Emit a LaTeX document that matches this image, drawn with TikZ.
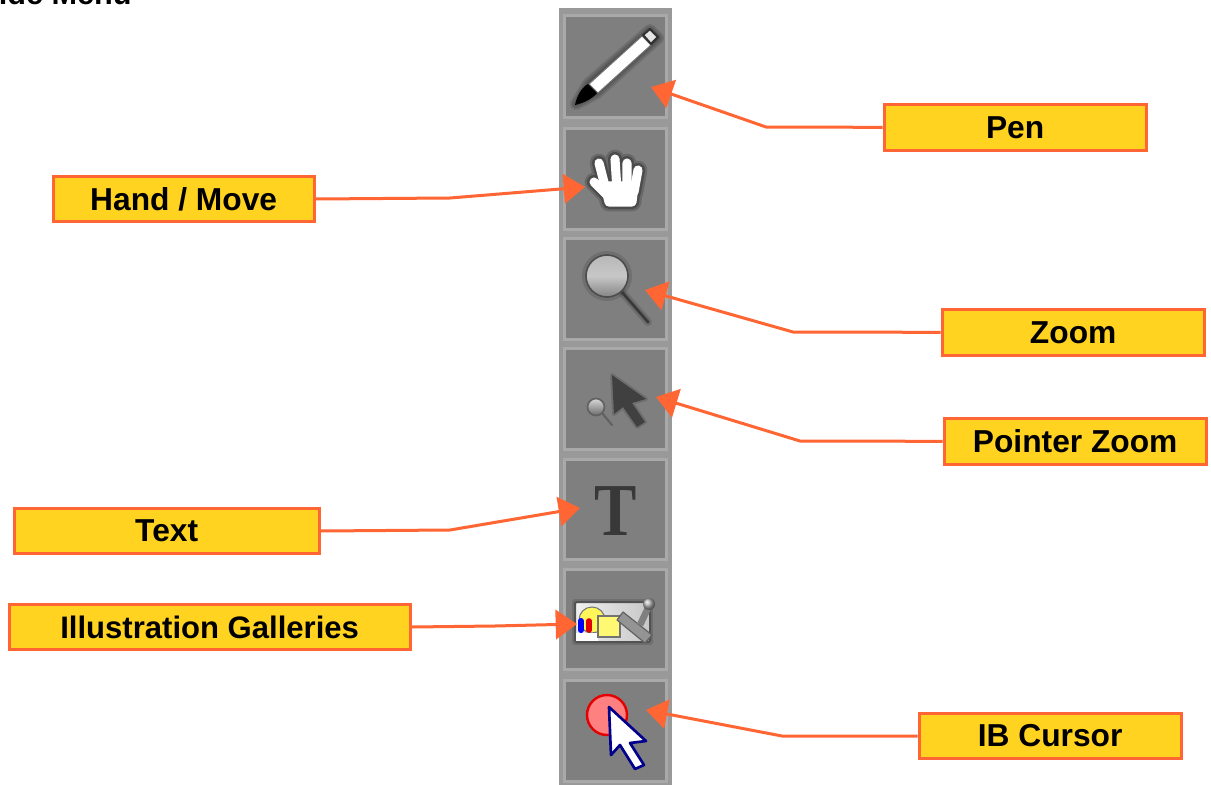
\documentclass[tikz,border=0pt]{standalone}
\usepackage{fontspec}
\setmainfont{Liberation Sans}
\newfontfamily\serifT{Liberation Serif}
\usetikzlibrary{arrows.meta,calc}
\definecolor{lineor}{HTML}{FF6633}
\definecolor{boxyel}{HTML}{FFD320}
\definecolor{panelg}{HTML}{999999}
\definecolor{btng}{HTML}{7F7F7F}
\definecolor{btnb}{HTML}{A9A9A9}
\tikzset{
  x=0.75pt,y=-0.75pt,
  labelbox/.style={draw=lineor,fill=boxyel,line width=2.25pt,rectangle,inner sep=0pt,
    font=\fontsize{23.8}{26}\selectfont\bfseries,text=black,anchor=north west},
  callout/.style={draw=lineor,line width=2.25pt,line join=round,
    -{Triangle[length=16pt,width=22pt,fill=lineor]}},
  button/.style={draw=btnb,fill=btng,line width=2.25pt,rectangle,inner sep=0pt,anchor=north west,minimum width=76.5pt},
  halo/.style={draw=black,opacity=.13,line join=round,line cap=round},
}
\begin{document}
\begin{tikzpicture}
\useasboundingbox (0,0) rectangle (1211,785);
\clip (0,0) rectangle (1211,785);
\fill[white] (0,0) rectangle (1211,785);
% clipped heading
\node[anchor=base east,font=\fontsize{23}{26}\selectfont\bfseries,text=black,inner sep=0pt] (heading) at (132,4) {Slide Menu};
% panel
\node[fill=panelg,rectangle,inner sep=0pt,outer sep=0pt,anchor=north west,minimum width=84.75pt,minimum height=583pt] (panel) at (559,8) {};
\node[button,minimum height=76.5pt] (b1) at (563,14) {};
\node[button,minimum height=75.5pt] (b2) at (563,127) {};
\node[button,minimum height=75.5pt] (b3) at (563,237) {};
\node[button,minimum height=75.5pt] (b4) at (563,347) {};
\node[button,minimum height=75pt] (b5) at (563,458) {};
\node[button,minimum height=75pt] (b6) at (563,568) {};
\node[button,minimum height=75.5pt] (b7) at (563,679) {};
% pen
\foreach \w in {9pt,6pt,3pt}{
  \draw[halo,line width=\w] (576,104) -- (588,84) -- (650,30) -- (658,38) -- (597,93) -- cycle;}
\fill[black] (575,105) .. controls (577,96) and (581,88) .. (588,84) -- (597,93) .. controls (591,100) and (583,103) .. (575,105) -- cycle;
\draw[black!55,line width=.75pt,fill=white] (589,84) -- (642,36) -- (651,45) -- (598,93) -- cycle;
\draw[black!80,line width=1.6pt,fill=black!10,line join=round] (643,35) -- (650,29) -- (658,37) -- (651,44) -- cycle;
% hand
\foreach \w/\c/\o in {14pt/black/.18,10.5pt/black!70/1,6.8pt/white/1}{
 \begin{scope}[opacity=\o,transparency group]
  \draw[\c,line width=\w,line cap=round] (599,163) -- (606,190);
  \draw[\c,line width=\w,line cap=round] (615,159) -- (617,190);
  \draw[\c,line width=\w,line cap=round] (627,163) -- (627,190);
  \draw[\c,line width=\w,line cap=round] (638,170) -- (634,192);
  \draw[\c,line width=\w,line cap=round] (594,182) -- (608,196);
  \draw[\c,line width=\w,line cap=round,line join=round,fill=\c] (605,186) -- (634,186) -- (632,202) -- (609,202) -- cycle;
 \end{scope}
}
% zoom icon
\foreach \w in {6pt,3pt}{\draw[halo,line width=\w] (621,291) -- (648,322);}
\fill[black,opacity=.12] (607,276) circle[radius=25];
\draw[black!78,line width=1.8pt,line cap=round] (621,291) -- (648,322);
\shade[top color=black!28,bottom color=black!48,middle color=black!22,draw=black!70,line width=1.2pt] (607,276) circle[radius=21];
% pointer zoom icon
\draw[black!62,line width=1.6pt,line cap=round] (602,413) -- (612,425);
\shade[top color=black!15,bottom color=black!58,draw=black!62,line width=1.3pt] (596,407) circle[radius=8.5];
\draw[halo,line width=3pt] (612,375) -- (646,399) -- (632,403) -- (645,422) -- (637,427) -- (623,407) -- (614,414) -- cycle;
\fill[black!75] (612,375) -- (646,399) -- (632,403) -- (645,422) -- (637,427) -- (623,407) -- (614,414) -- cycle;
% T icon
\node[font=\fontsize{56}{60}\selectfont\serifT\bfseries,text=black!78,inner sep=0pt,anchor=base] (ticon) at (616,535) {\scalebox{0.85}[1]{T}};
% gallery icon
\draw[halo,line width=5pt] (575,602) rectangle (650,642);
\shade[left color=black!6,right color=black!22,draw=black!68,line width=1.5pt,rounded corners=1.5pt] (575,602) rectangle (650,642);
\draw[black!55,line width=.75pt,fill=yellow!65] (592,620) circle[radius=13];
\fill[white] (576,633) rectangle (598,641);
\draw[black!55,line width=.9pt,fill=yellow!55] (598,616) rectangle (620,637);
\draw[blue,line width=4.6pt,line cap=round] (581,621) -- (581,630);
\draw[red!90!black,line width=4.2pt,line cap=round] (589,621) -- (589,630);
\draw[black!62,line width=.9pt,fill=black!42,line join=round] (617,620) -- (623,612) -- (652,635) -- (645,643) -- cycle;
\draw[black!50,line width=5pt] (640,625) -- (648,608);
\shade[ball color=black!30] (649,604) circle[radius=6];
% IB cursor icon
\draw[red!90!black,line width=1.8pt,fill=red!50!white] (607,715) circle[radius=20];
\draw[blue!55!black,line width=2pt,fill=white,line join=round] (609,707) -- (646,741) -- (630,743) -- (644,765) -- (635,769) -- (620,745) -- (611,755) -- cycle;
% labels
\node[labelbox,minimum width=196.75pt,minimum height=34.25pt] (pen) at (882.5,103) {Pen};
\node[labelbox,minimum width=196pt,minimum height=33.75pt] (hand) at (51.5,175) {Hand / Move};
\node[labelbox,minimum width=196.75pt,minimum height=34.25pt] (zoom) at (940.5,308) {Zoom};
\node[labelbox,minimum width=196.75pt,minimum height=34.25pt] (pointer) at (942.5,417) {Pointer Zoom};
\node[labelbox,minimum width=229pt,minimum height=33.75pt] (text) at (12.5,507) {Text};
\node[labelbox,minimum width=301pt,minimum height=33.75pt,font=\fontsize{23.3}{26}\selectfont\bfseries] (gal) at (7.5,603) {Illustration Galleries};
\node[labelbox,minimum width=196.75pt,minimum height=33.75pt] (ib) at (917.5,712) {IB Cursor};
% connector ends
\coordinate (penT) at (651,87);
\coordinate (handT) at (585,187);
\coordinate (zoomT) at (645,290);
\coordinate (pointerT) at (656,397);
\coordinate (textT) at (580,508);
\coordinate (galT) at (577,624);
\coordinate (ibT) at (646,710);
\draw[callout] (pen.west) -- (766,127) -- (penT);
\draw[callout] (hand.east) -- (450,198) -- (handT);
\draw[callout] (zoom.west) -- (793,332) -- (zoomT);
\draw[callout] (pointer.west) -- (800,441) -- (pointerT);
\draw[callout] (text.east) -- (450,530) -- (textT);
\draw[callout] (gal.east) -- (495,626) -- (galT);
\draw[callout] (ib.west) -- (782,736) -- (ibT);
\end{tikzpicture}
\end{document}
